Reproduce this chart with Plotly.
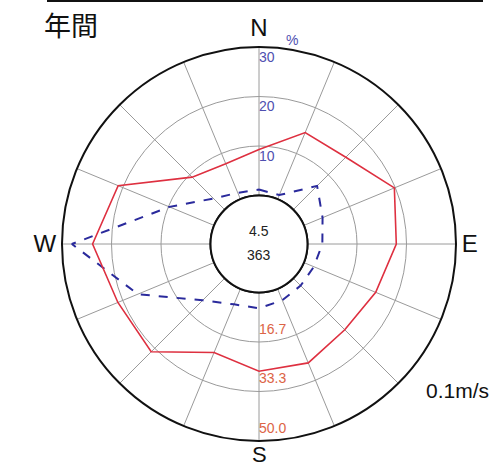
import plotly.graph_objects as go

# 16 compass directions, clockwise from North
directions = ["N", "NNE", "NE", "ENE", "E", "ESE", "SE", "SSE",
              "S", "SSW", "SW", "WSW", "W", "WNW", "NW", "NNW"]
# mean wind speed per direction (unit: 0.1 m/s)
speed = [15.5, 24.3, 25.0, 33.0, 29.9, 26.2, 24.5, 27.0,
         26.5, 23.2, 35.0, 35.1, 39.7, 35.0, 15.5, 12.9]
# frequency per direction (%)
freq = [1.2, 0.9, 6.8, 4.1, 3.0, 2.2, 2.1, 2.5,
        3.2, 3.4, 6.3, 16.7, 28.0, 9.8, 3.2, 1.4]
calm_pct = "4.5"
count = "363"
freq_ticks = [10, 20, 30]
freq_tick_labels = ["10", "20", "30"]
speed_ticks = [16.7, 33.3, 50.0]
speed_tick_labels = ["16.7", "33.3", "50.0"]
compass_labels = {0: "N", 90: "E", 270: "W"}
south_label = "S"

step = 360 / len(directions)
theta = [i * step for i in range(len(directions))]
theta_c = theta + [theta[0]]

RED = "#de3040"
BLUE = "#2a2a9c"
GRID = "#9a9a9a"
FONT = "Liberation Sans, Arial, sans-serif"

fig = go.Figure()

# inner circle (hole edge)
fig.add_trace(go.Scatterpolar(
    r=[0] * 73, theta=[i * 5 for i in range(73)], mode="lines",
    line=dict(color="#111111", width=2), subplot="polar",
    hoverinfo="skip", showlegend=False))

# frequency (%) - blue dashed
fig.add_trace(go.Scatterpolar(
    r=freq + [freq[0]], theta=theta_c, mode="lines",
    line=dict(color=BLUE, width=2, dash="dash"), subplot="polar",
    name="freq", showlegend=False))

# frequency tick labels along N axis
fig.add_trace(go.Scatterpolar(
    r=[t - 2.3 for t in freq_ticks], theta=[0] * len(freq_ticks),
    mode="text", text=freq_tick_labels, textposition="middle right",
    textfont=dict(color="#4f4fb0", size=14, family=FONT),
    subplot="polar", hoverinfo="skip", showlegend=False))

# speed - red line
fig.add_trace(go.Scatterpolar(
    r=speed + [speed[0]], theta=theta_c, mode="lines",
    line=dict(color=RED, width=1.6), subplot="polar2",
    name="speed", showlegend=False))

# speed tick labels along S axis
fig.add_trace(go.Scatterpolar(
    r=[t - 4.0 for t in speed_ticks], theta=[180] * len(speed_ticks),
    mode="text", text=speed_tick_labels, textposition="middle right",
    textfont=dict(color="#dc6446", size=14, family=FONT),
    subplot="polar2", hoverinfo="skip", showlegend=False))

W, H = 495, 466
cx, cy, R = 259, 244, 197
dom_x = [(cx - R) / W, (cx + R) / W]
dom_y = [(H - cy - R) / H, (H - cy + R) / H]
hole = 48.5 / R

tickvals = theta
ticktext = [compass_labels[int(t)] if t in compass_labels else "" for t in theta]

fig.update_layout(
    width=W, height=H,
    margin=dict(l=0, r=0, t=0, b=0),
    paper_bgcolor="white", plot_bgcolor="white",
    font=dict(family=FONT, color="#111111"),
    polar=dict(
        domain=dict(x=dom_x, y=dom_y),
        hole=hole,
        bgcolor="white",
        radialaxis=dict(range=[0, 30], tickvals=freq_ticks, showticklabels=False,
                        ticks="", showline=False, gridcolor=GRID, gridwidth=1.3),
        angularaxis=dict(rotation=90, direction="clockwise",
                         tickmode="array", tickvals=tickvals, ticktext=ticktext,
                         ticks="", showline=True, linecolor="#111111", linewidth=2,
                         gridcolor=GRID, gridwidth=1.3,
                         tickfont=dict(size=24, color="#111111", family=FONT)),
    ),
    polar2=dict(
        domain=dict(x=dom_x, y=dom_y),
        hole=hole,
        bgcolor="rgba(0,0,0,0)",
        radialaxis=dict(range=[0, 50], showticklabels=False, ticks="",
                        showline=False, showgrid=False),
        angularaxis=dict(rotation=90, direction="clockwise", showgrid=False,
                         showline=False, showticklabels=False, ticks=""),
    ),
    annotations=[
        dict(x=cx / W, y=1 - 231 / H, xref="paper", yref="paper",
             text=calm_pct, showarrow=False, font=dict(size=14, color="#222222")),
        dict(x=cx / W, y=1 - 255 / H, xref="paper", yref="paper",
             text=count, showarrow=False, font=dict(size=14, color="#222222")),
        dict(x=cx / W, y=1 - 440 / H, xref="paper", yref="paper", yanchor="top",
             text=south_label, showarrow=False,
             font=dict(size=22, color="#111111", family=FONT)),
        dict(x=42 / W, y=1 - 3 / H, xref="paper", yref="paper", xanchor="left",
             yanchor="top", text="年間", showarrow=False,
             font=dict(size=27, color="#111111", family="Noto Sans CJK JP")),
        dict(x=292 / W, y=1 - 30 / H, xref="paper", yref="paper",
             text="%", showarrow=False, font=dict(size=14, color="#4f4fb0")),
        dict(x=491 / W, y=1 - 404 / H, xref="paper", yref="paper", xanchor="right",
             text="0.1m/s", showarrow=False, font=dict(size=21, color="#111111")),
    ],
    shapes=[dict(type="line", xref="paper", yref="paper",
                 x0=47 / W, x1=483 / W, y0=1 - 1 / H, y1=1 - 1 / H,
                 line=dict(color="#111111", width=2))],
)

fig.write_html("out.html",
               config={"displayModeBar": False},
               post_script="document.body.style.margin='0';"
                           "document.body.style.overflow='hidden';")
